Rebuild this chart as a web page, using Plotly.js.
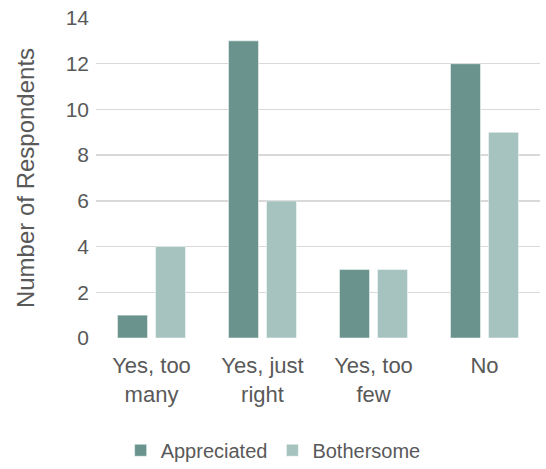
<!DOCTYPE html>
<html>
<head>
<meta charset="utf-8">
<script src="https://cdn.plot.ly/plotly-3.0.1.min.js"></script>
<style>html,body{margin:0;padding:0;background:#fff;}#chart{width:546px;height:469px;}</style>
</head>
<body>
<div id="chart"></div>
<script>
const categories = ["Yes, too<br>many", "Yes, just<br>right", "Yes, too<br>few", "No"];
const appreciated = [1, 13, 3, 12];
const bothersome = [4, 6, 3, 9];
const yTicks = [0, 2, 4, 6, 8, 10, 12, 14];

const font = "Liberation Sans, Arial, sans-serif";
const textColor = "#595959";

const traces = [
  {type: "bar", name: "Appreciated", x: categories, y: appreciated,
   marker: {color: "#6a938e", line: {color: "#ffffff", width: 0.5}}},
  {type: "bar", name: "Bothersome", x: categories, y: bothersome,
   marker: {color: "#a6c3bf", line: {color: "#ffffff", width: 0.5}}}
];

const layout = {
  width: 546, height: 469,
  margin: {l: 96, r: 6, t: 18, b: 131},
  paper_bgcolor: "#fff", plot_bgcolor: "#fff",
  barmode: "group", bargap: 0.315, bargroupgap: 0.21,
  font: {family: font, color: textColor, size: 21},
  xaxis: {showgrid: false, showline: false, ticks: "", tickangle: 0, automargin: false,
          ticklabelstandoff: 12, tickfont: {size: 22, color: textColor}},
  yaxis: {
    range: [0, 14], tickvals: yTicks, showgrid: true, gridcolor: "#d9d9d9", gridwidth: 1.5,
    zeroline: false, showline: false, ticks: "", ticklen: 0, ticklabelstandoff: 6, automargin: false,
    tickfont: {size: 21, color: textColor},
    title: {text: "Number of Respondents", font: {size: 24, color: textColor}, standoff: 24}
  },
  legend: {orientation: "h", x: 0.399, xanchor: "center", yref: "container", y: 0.04, yanchor: "middle",
           font: {size: 20, color: textColor}, itemwidth: 30, traceorder: "normal"},
  showlegend: true
};

Plotly.newPlot("chart", traces, layout, {displayModeBar: false, staticPlot: true});
</script>
</body>
</html>
